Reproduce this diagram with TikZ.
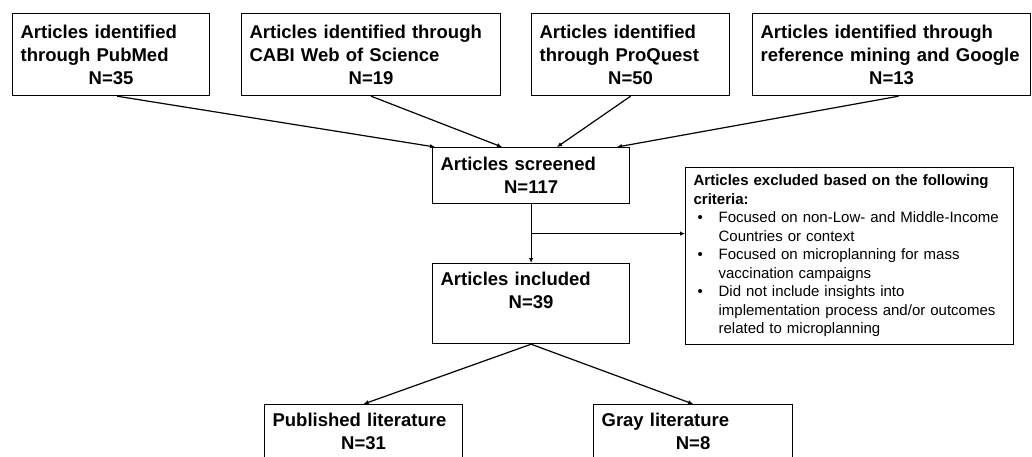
\documentclass[tikz,border=0pt]{standalone}
\usepackage{fontspec}
\setmainfont{Liberation Sans}
\usepackage{tikz}
\usetikzlibrary{positioning,arrows.meta,calc}
\definecolor{ink}{HTML}{000000}
\newcommand{\ncount}[1]{\makebox[\linewidth]{#1}}
\newcommand{\bitem}{\hspace*{4pt}\makebox[21pt][l]{\textbullet}}
\newcommand{\bcont}{\hspace*{25pt}}

\begin{document}
\begin{tikzpicture}[x=1pt,y=-1pt,>={Latex[length=5pt,width=4.5pt]},
    flowbox/.style={draw=ink, line width=1.2pt, anchor=north west, inner xsep=8pt, inner ysep=0pt,
      align=left, font=\bfseries\fontsize{18.5}{23}\selectfont},
    notebox/.style={flowbox, font=\fontsize{15}{18.5}\selectfont},
    link/.style={->, draw=ink, line width=1.2pt}]
        \useasboundingbox (0,0) rectangle (1032,456);
        \clip (0,0) rectangle (1032,456);
        \node[flowbox, text width=181pt, minimum height=82pt] (pubmed) at (12,13)
          {Articles identified\\through PubMed\\\ncount{N=35}};
        \node[flowbox, text width=243pt, minimum height=82pt] (cabi) at (241,13)
          {Articles identified through\\CABI Web of Science\\\ncount{N=19}};
        \node[flowbox, text width=182pt, minimum height=82pt] (proquest) at (531,13)
          {Articles identified\\through ProQuest\\\ncount{N=50}};
        \node[flowbox, text width=262pt, minimum height=82pt] (refmining) at (752,13)
          {Articles identified through\\reference mining and Google\\\ncount{N=13}};
        \node[flowbox, text width=181pt, minimum height=56pt] (screened) at (432,147)
          {Articles screened\\\ncount{N=117}};
        \node[flowbox, text width=181pt, minimum height=80pt] (included) at (432,263)
          {Articles included\\\ncount{N=39\rule[-26pt]{0pt}{26pt}}};
        \node[notebox, text width=312pt, minimum height=177pt] (excluded) at (685,167)
          {\textbf{Articles excluded based on the following}\\
           \textbf{criteria:}\\
           \bitem Focused on non-Low- and Middle-Income\\
           \bcont Countries or context\\
           \bitem Focused on microplanning for mass\\
           \bcont vaccination campaigns\\
           \bitem Did not include insights into\\
           \bcont implementation process and/or outcomes\\
           \bcont related to microplanning};
        \node[flowbox, text width=182pt, minimum height=80pt] (published) at (264,404)
          {Published literature\\\ncount{N=31\rule[-26pt]{0pt}{26pt}}};
        \node[flowbox, text width=183pt, minimum height=80pt] (gray) at (593,404)
          {Gray literature\\\ncount{N=8\rule[-26pt]{0pt}{26pt}}};

        \draw[link] ([xshift=6pt]pubmed.south) -- ([xshift=3pt]screened.north west);
        \draw[link] (cabi.south) -- ([xshift=70pt]screened.north west);
        \draw[link] (proquest.south) -- ([xshift=125pt]screened.north west);
        \draw[link] ([xshift=7pt]refmining.south) -- ([xshift=185pt]screened.north west);
        \draw[link] (screened.south) -- (included.north);
        \coordinate (split) at ($(screened.south)!0.5!(included.north)$);
        \draw[link] (split) -- (split -| excluded.west);
        \draw[link] (included.south) -- (published.north);
        \draw[link] (included.south) -- (gray.north);
      \end{tikzpicture}
\end{document}
